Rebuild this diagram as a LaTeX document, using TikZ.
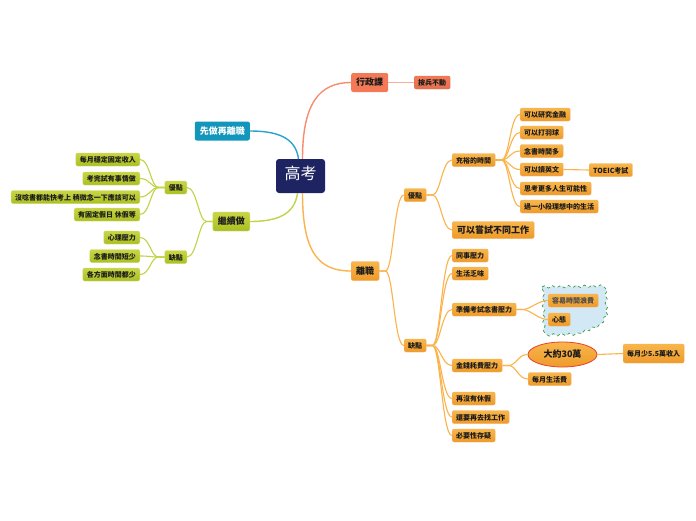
\documentclass[tikz,border=0pt]{standalone}
\usepackage{fontspec}
\setmainfont{Noto Sans CJK TC}
\usetikzlibrary{shapes.geometric,decorations.pathmorphing}
\definecolor{cNavy}{HTML}{1E2461}
\definecolor{cTealN}{HTML}{1396BB}
\definecolor{cCoral}{HTML}{F47A57}
\definecolor{cCoralD}{HTML}{E0704F}
\definecolor{cOrT}{HTML}{F8B64C}
\definecolor{cOrB}{HTML}{EE9A2A}
\definecolor{cOrE}{HTML}{F2B060}
\definecolor{cGrT}{HTML}{C8D646}
\definecolor{cGrB}{HTML}{AABF22}
\definecolor{cGrE}{HTML}{D0DC70}
\definecolor{lOr}{HTML}{FBB34C}
\definecolor{lGr}{HTML}{C2D348}
\definecolor{lTeal}{HTML}{2AA3C9}
\definecolor{lCoral}{HTML}{F78D6E}
\definecolor{lCoralL}{HTML}{F6AE98}
\definecolor{cCloud}{HTML}{D2E9F5}
\definecolor{cCloudE}{HTML}{3C9A45}
\definecolor{cRed}{HTML}{E8402A}
\definecolor{cTxt}{HTML}{1A1A1A}
\tikzset{
  base/.style={rounded corners=2pt, inner ysep=0pt, text height=0.82em, text depth=0.14em},
  small/.style={base, font=\fontsize{7}{8}\selectfont\bfseries, inner xsep=4pt, minimum height=13pt},
  big/.style={base, font=\fontsize{9}{10}\selectfont\bfseries, inner xsep=5pt, minimum height=19pt},
  orn/.style={draw=cOrE, line width=0.4pt, top color=cOrT, bottom color=cOrB, text=cTxt},
  grn/.style={draw=cGrE, line width=0.4pt, top color=cGrT, bottom color=cGrB, text=cTxt},
  rootbox/.style={base, rounded corners=3pt, fill=cNavy, text=white, font=\fontsize{16}{18}\selectfont, minimum width=49pt, minimum height=34pt},
  ol/.style={draw=lOr, line width=1.1pt},
  gl/.style={draw=lGr, line width=1.1pt},
  fanr/.style={to path={-- ++(6,0) .. controls +(8,0) and +(-10,0) .. (\tikztotarget)}},
  fanl/.style={to path={-- ++(-6,0) .. controls +(-8,0) and +(10,0) .. (\tikztotarget)}},
}
\begin{document}
\begin{tikzpicture}[x=1pt,y=-1pt]
\useasboundingbox[fill=white] (0,0) rectangle (696,520);
% cloud
\path[draw=cCloudE, fill=cCloud, dashed, line width=0.7pt, decorate, decoration={snake, amplitude=1.2pt, segment length=8pt}]
  (542,287) -- (603,286) -- (604,313) -- (598,323) -- (575,332) -- (543,333) -- cycle;
% root and main
\node[rootbox] (root) at (300.5,176) {高考};
\node[big, fill=cCoral, text=cTxt, anchor=west] (xz) at (351,82.5) {行政課};
\node[small, draw=cCoralD, top color=cCoral, bottom color=cCoralD, text=cTxt, anchor=west] (abd) at (414,82.5) {按兵不動};
\node[big, fill=cTealN, text=white, anchor=east] (xzz) at (250,131) {先做再離職};
\node[big, grn, anchor=east] (jxz) at (250,221.5) {繼續做};
\node[big, orn, anchor=west] (lz) at (351,271) {離職};
% right: advantages
\node[small, orn, anchor=west] (yd) at (404,195) {優點};
\node[small, orn, anchor=west] (cysj) at (452,160) {充裕的時間};
\node[base, orn, font=\fontsize{9}{10}\selectfont\bfseries, inner xsep=5pt, minimum height=17pt, anchor=west] (csbt) at (452,230) {可以嘗試不同工作};
\node[small, orn, anchor=west] (a1) at (520,114.5) {可以研究金融};
\node[small, orn, anchor=west] (a2) at (520,132.5) {可以打羽球};
\node[small, orn, anchor=west] (a3) at (520,151) {念書時間多};
\node[small, orn, anchor=west] (a4) at (520,169.5) {可以讀英文};
\node[small, orn, anchor=west] (toeic) at (589,170) {TOEIC考試};
\node[small, orn, anchor=west] (a5) at (520,188.5) {思考更多人生可能性};
\node[small, orn, anchor=west] (a6) at (520,206.5) {過一小段理想中的生活};
% right: disadvantages
\node[small, orn, anchor=west] (qd) at (404,345.5) {缺點};
\node[small, orn, anchor=west] (b1) at (452,255.5) {同事壓力};
\node[small, orn, anchor=west] (b2) at (452,273.5) {生活乏味};
\node[small, orn, anchor=west] (b3) at (452,309.5) {準備考試念書壓力};
\node[small, orn, anchor=west, text=black!70] (b3a) at (548,300.5) {容易時間浪費};
\node[small, orn, anchor=west] (b3b) at (548,319.5) {心態};
\node[small, orn, anchor=west] (b4) at (452,365.5) {金錢耗費壓力};
\node[ellipse, draw=cRed, line width=0.8pt, top color=cOrT, bottom color=cOrB, minimum width=69pt, minimum height=25pt, inner sep=0pt, text=cTxt, font=\fontsize{9}{10}\selectfont\bfseries] (b4a) at (562.5,354.5) {大約30萬};
\node[small, orn, anchor=west, minimum height=19pt] (b4a1) at (623,353.5) {每月少5.5萬收入};
\node[small, orn, anchor=west] (b4b) at (528,379) {每月生活費};
\node[small, orn, anchor=west] (b5) at (452,398.5) {再沒有休假};
\node[small, orn, anchor=west] (b6) at (452,417) {還要再去找工作};
\node[small, orn, anchor=west] (b7) at (452,435.5) {必要性存疑};
% left
\node[small, grn, anchor=east] (ydl) at (187,187.5) {優點};
\node[small, grn, anchor=east] (qdl) at (187,257) {缺點};
\node[small, grn, anchor=east] (c1) at (140,159.5) {每月穩定固定收入};
\node[small, grn, anchor=east] (c2) at (140,178.5) {考完試有事情做};
\node[small, grn, anchor=east] (c3) at (140,197) {沒唸書都能快考上 稍微念一下應該可以};
\node[small, grn, anchor=east] (c4) at (140,214.5) {有固定假日 休假等};
\node[small, grn, anchor=east] (d1) at (140,237.5) {心理壓力};
\node[small, grn, anchor=east] (d2) at (140,256) {念書時間短少};
\node[small, grn, anchor=east] (d3) at (140,274.5) {各方面時間都少};
% root connectors
\draw[draw=lCoral, line width=1.4pt] ([xshift=2pt]root.north) .. controls +(0,-55) and +(-32,0) .. (xz.west);
\draw[draw=lOr, line width=1.4pt] ([xshift=2pt]root.south) .. controls +(0,60) and +(-32,0) .. (lz.west);
\draw[draw=lTeal, line width=1.4pt] ([xshift=-2pt]root.north) .. controls +(-3,-22) and +(26,0) .. (xzz.east);
\draw[draw=lGr, line width=1.4pt] ([xshift=-3pt]root.south) .. controls +(-3,22) and +(26,0) .. (jxz.east);
\draw[draw=lCoralL, line width=1.1pt] (xz.east) -- (abd.west);
% orange branch
\draw[ol] (lz.east) to[fanr] (yd.west);
\draw[ol] (lz.east) to[fanr] (qd.west);
\draw[ol] (yd.east) to[fanr] (cysj.west);
\draw[ol] (yd.east) to[fanr] (csbt.west);
\foreach \c in {a1,a2,a3,a4,a5,a6} \draw[ol] (cysj.east) to[fanr] (\c.west);
\draw[ol] (a4.east) -- (toeic.west);
\foreach \c in {b1,b2,b3,b4,b5,b6,b7} \draw[ol] (qd.east) to[fanr] (\c.west);
\draw[ol] (b3.east) to[fanr] (b3a.west);
\draw[ol] (b3.east) to[fanr] (b3b.west);
\draw[ol] (b4.east) to[fanr] (b4a.west);
\draw[ol] (b4.east) to[fanr] (b4b.west);
\draw[ol] (b4a.east) -- (b4a1.west);
% green branch
\draw[gl] (jxz.west) to[fanl] (ydl.east);
\draw[gl] (jxz.west) to[fanl] (qdl.east);
\foreach \c in {c1,c2,c3,c4} \draw[gl] (ydl.west) to[fanl] (\c.east);
\foreach \c in {d1,d2,d3} \draw[gl] (qdl.west) to[fanl] (\c.east);
\end{tikzpicture}
\end{document}
